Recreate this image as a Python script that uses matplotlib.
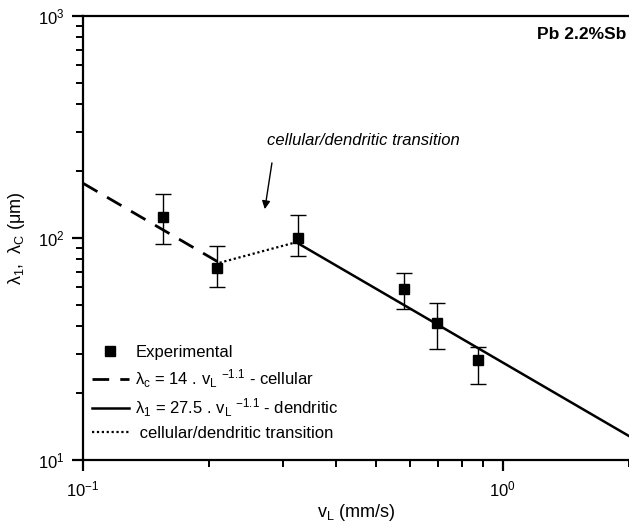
import numpy as np
import matplotlib
matplotlib.use("Agg")
import matplotlib.pyplot as plt

plt.rcParams["font.family"] = ["Liberation Sans", "DejaVu Sans"]
plt.rcParams["mathtext.fontset"] = "custom"
plt.rcParams["mathtext.rm"] = "Liberation Sans"
plt.rcParams["mathtext.it"] = "Liberation Sans:italic"
plt.rcParams["mathtext.bf"] = "Liberation Sans:bold"
plt.rcParams["axes.unicode_minus"] = False

# experimental spacings
v_exp = [0.155, 0.209, 0.326, 0.582, 0.697, 0.873]
lam_exp = [124, 73.3, 100, 58.9, 41.4, 28.2]
lam_hi = [158, 92, 127, 69.6, 50.9, 32.3]
lam_lo = [94, 60.2, 83, 47.9, 31.6, 22.0]

# fitted laws
cell_coef, dend_coef, expo = 14.0, 27.5, -1.1
v_cell = [0.1, 0.2115]
v_dend = [0.322, 2.0]
v_trans = [0.2115, 0.322]

v_exp = np.array(v_exp)
lam_exp = np.array(lam_exp)
yerr = [lam_exp - np.array(lam_lo), np.array(lam_hi) - lam_exp]

fig = plt.figure(figsize=(6.29, 5.27), dpi=100)
ax = fig.add_axes([0.132, 0.127, 0.868, 0.843])

vc = np.array(v_cell)
vd = np.array(v_dend)
vt = np.array(v_trans)
ax.plot(vc, cell_coef * vc ** expo, color="black", lw=2.0, dashes=(6, 4),
        label=r"λ$_\mathregular{c}$ = 14 . v$_\mathregular{L}$ $^{\mathregular{-1.1}}$ - cellular")
ax.plot(vd, dend_coef * vd ** expo, color="black", lw=1.8,
        label=r"λ$_\mathregular{1}$ = 27.5 . v$_\mathregular{L}$ $^{\mathregular{-1.1}}$ - dendritic")
ax.plot(vt, [cell_coef * vt[0] ** expo, dend_coef * vt[1] ** expo], color="black",
        lw=1.6, linestyle=(0, (1, 1.2)), label=" cellular/dendritic transition")
ax.errorbar(v_exp, lam_exp, yerr=yerr, fmt="none", ecolor="black",
            elinewidth=1, capsize=6, capthick=1)
ax.plot(v_exp, lam_exp, "s", color="black", ms=7.5, label="Experimental")

ax.set_xscale("log")
ax.set_yscale("log")
ax.set_xlim(0.1, 2.0)
ax.set_ylim(10, 1000)

for s in ["left", "bottom", "top"]:
    ax.spines[s].set_linewidth(1.6)
ax.spines["right"].set_visible(False)
ax.tick_params(which="major", direction="out", length=8, width=1.6, labelsize=12)
ax.tick_params(which="minor", direction="out", length=5, width=1.4)
ax.tick_params(axis="x", which="major", pad=6)
ax.tick_params(axis="y", which="major", pad=5)
ax.yaxis.set_minor_formatter(matplotlib.ticker.NullFormatter())
ax.xaxis.set_minor_formatter(matplotlib.ticker.NullFormatter())

ax.set_xlabel(r"v$_\mathregular{L}$ (mm/s)", fontsize=13, labelpad=2)
ax.set_ylabel(r"λ$_\mathregular{1}$,  λ$_\mathregular{C}$ (μm)", fontsize=13, labelpad=8)

ax.text(0.995, 0.957, "Pb 2.2%Sb", transform=ax.transAxes, ha="right", va="center",
        fontsize=12.5, fontweight="bold")
ax.text(0.274, 276, "cellular/dendritic transition", ha="left", va="center",
        fontsize=12, style="italic")
ax.annotate("", xy=(0.2705, 131), xytext=(0.2826, 224),
            arrowprops=dict(arrowstyle="-|>", color="black", lw=1, mutation_scale=12))

h, l = ax.get_legend_handles_labels()
order = [3, 0, 1, 2]
ax.legend([h[i] for i in order], [l[i] for i in order], loc="lower left",
          bbox_to_anchor=(-0.005, 0.016), frameon=False, fontsize=12, handlelength=2.2,
          handletextpad=0.4, labelspacing=0.42, borderaxespad=0.3)

fig.savefig("out.png", dpi=100)
